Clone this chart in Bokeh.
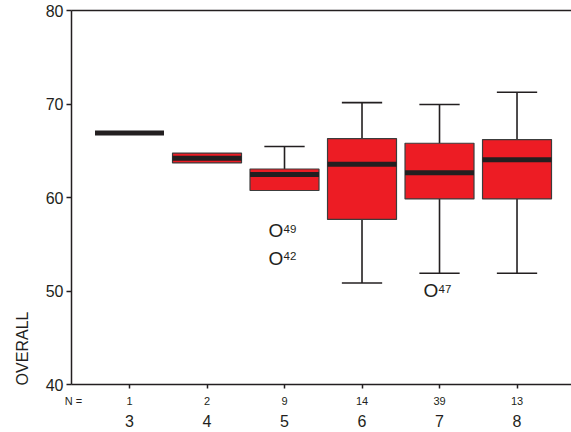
import math
from bokeh.plotting import figure
from bokeh.models import (Range1d, LinearAxis, FixedTicker, ColumnDataSource)
from bokeh.core.properties import value
from bokeh.embed import file_html
from bokeh.resources import INLINE

# ---- data ----
groups = ["3", "4", "5", "6", "7", "8"]
n_counts = [1, 2, 9, 14, 39, 13]
q1 = [66.9, 63.7, 60.75, 57.65, 59.85, 59.85]
median = [66.9, 64.2, 62.45, 63.55, 62.65, 64.05]
q3 = [66.9, 64.75, 63.05, 66.3, 65.8, 66.2]
whisker_low = [66.9, 63.7, 60.75, 50.85, 51.9, 51.9]
whisker_high = [66.9, 64.75, 65.45, 70.15, 69.95, 71.25]
outlier_group = ["5", "5", "7"]
outlier_value = [56.45, 53.5, 50.05]
outlier_case = ["49", "42", "47"]
y_ticks = [40, 50, 60, 70, 80]
y_title = "OVERALL"
n_title = "N ="

FONT = "Liberation Sans"
DARK = "#231f20"
RED = "#ed1c24"

xpos = [i + 1 for i in range(len(groups))]
pos_of = {g: i + 1 for i, g in enumerate(groups)}

X0, X1 = 0.2516, 6.703
p = figure(width=571, height=432, output_backend="svg", toolbar_location=None,
           x_range=Range1d(X0, X1), y_range=Range1d(40, 80),
           min_border_left=71, min_border_right=0, min_border_top=10, min_border_bottom=48,
           x_axis_location=None, y_axis_location=None)
p.outline_line_color = None
p.xgrid.visible = False
p.ygrid.visible = False
p.background_fill_color = "white"


def bare(ax):
    ax.axis_line_color = None
    ax.major_tick_line_color = None
    ax.minor_tick_line_color = None
    ax.major_tick_out = 0
    ax.major_tick_in = 0
    ax.minor_tick_out = 0
    ax.minor_tick_in = 0


# y axis
yax = LinearAxis(ticker=FixedTicker(ticks=y_ticks))
yax.axis_line_color = DARK
yax.axis_line_width = 1.5
yax.major_tick_line_color = DARK
yax.major_tick_line_width = 1.5
yax.major_tick_out = 5
yax.major_tick_in = 0
yax.minor_tick_line_color = None
yax.major_label_text_font = FONT
yax.major_label_text_font_size = "16px"
yax.major_label_text_color = DARK
yax.major_label_standoff = 3
p.add_layout(yax, "left")

# y title, placed near the bottom of the axis (as in the original)
title_y = 47.8
tyax = LinearAxis(ticker=FixedTicker(ticks=[title_y]),
                  major_label_overrides={title_y: y_title})
bare(tyax)
tyax.major_label_orientation = math.pi / 2
tyax.major_label_text_font = FONT
tyax.major_label_text_font_size = "16px"
tyax.major_label_text_color = DARK
tyax.major_label_standoff = 20
p.add_layout(tyax, "left")

# top line
tax = LinearAxis(ticker=FixedTicker(ticks=[]))
tax.axis_line_color = DARK
tax.axis_line_width = 1.5
tax.major_tick_out = 0
tax.major_tick_in = 0
tax.minor_tick_line_color = None
tax.major_label_text_font_size = "0px"
tax.major_label_standoff = 0
p.add_layout(tax, "above")

# x axis line + tick marks
xax = LinearAxis(ticker=FixedTicker(ticks=xpos),
                 major_label_overrides={x: "" for x in xpos})
xax.axis_line_color = DARK
xax.axis_line_width = 1.5
xax.major_tick_line_color = DARK
xax.major_tick_line_width = 1.5
xax.major_tick_out = 4
xax.major_tick_in = 0
xax.minor_tick_line_color = None
xax.major_label_text_font_size = "0px"
xax.major_label_standoff = 0
p.add_layout(xax, "below")

# row of N counts, with the "N =" caption at the left edge
n_cap_x = X0 + 0.0258
nax = LinearAxis(ticker=FixedTicker(ticks=[n_cap_x] + xpos),
                 major_label_overrides={**{n_cap_x: n_title},
                                        **{x: str(n) for x, n in zip(xpos, n_counts)}})
bare(nax)
nax.major_label_text_font = FONT
nax.major_label_text_font_size = "11px"
nax.major_label_text_color = DARK
nax.major_label_standoff = 6
p.add_layout(nax, "below")

# x axis with group labels
gax = LinearAxis(ticker=FixedTicker(ticks=xpos),
                 major_label_overrides={x: g for x, g in zip(xpos, groups)})
bare(gax)
gax.major_label_text_font = FONT
gax.major_label_text_font_size = "16px"
gax.major_label_text_color = DARK
gax.major_label_standoff = 5
p.add_layout(gax, "below")

src = ColumnDataSource(dict(x=xpos, q1=q1, q3=q3, med=median, lo=whisker_low, hi=whisker_high))

# whiskers (only where they extend beyond the box)
BW = 0.89
CAP = 0.26
ux = [x for x, a, b in zip(xpos, q3, whisker_high) if b > a]
uy0 = [a for a, b in zip(q3, whisker_high) if b > a]
uy1 = [b for a, b in zip(q3, whisker_high) if b > a]
lx = [x for x, a, b in zip(xpos, q1, whisker_low) if b < a]
ly0 = [a for a, b in zip(q1, whisker_low) if b < a]
ly1 = [b for a, b in zip(q1, whisker_low) if b < a]
p.segment(x0=ux, x1=ux, y0=uy0, y1=uy1, line_color=DARK, line_width=1.6)
p.segment(x0=[x - CAP for x in ux], x1=[x + CAP for x in ux], y0=uy1, y1=uy1, line_color=DARK, line_width=1.6)
p.segment(x0=lx, x1=lx, y0=ly0, y1=ly1, line_color=DARK, line_width=1.6)
p.segment(x0=[x - CAP for x in lx], x1=[x + CAP for x in lx], y0=ly1, y1=ly1, line_color=DARK, line_width=1.6)

# boxes
p.vbar(x="x", width=BW, bottom="q1", top="q3", source=src,
       fill_color=RED, line_color="#3c3c3c", line_width=1.2)
# medians
p.rect(x="x", y="med", width=BW, height=5, height_units="screen", source=src,
       fill_color=DARK, line_color=None)

# outliers
ox = [pos_of[g] for g in outlier_group]
p.text(x=ox, y=outlier_value, text=["O"] * len(ox), x_offset=-8.5,
       text_align="center", text_baseline="middle",
       text_font=value(FONT), text_font_size="19px", text_color=DARK)
p.text(x=ox, y=outlier_value, text=outlier_case, x_offset=-1, y_offset=-2,
       text_align="left", text_baseline="middle",
       text_font=value(FONT), text_font_size="11.5px", text_color=DARK)

open("out.html", "w").write(file_html(p, INLINE))
